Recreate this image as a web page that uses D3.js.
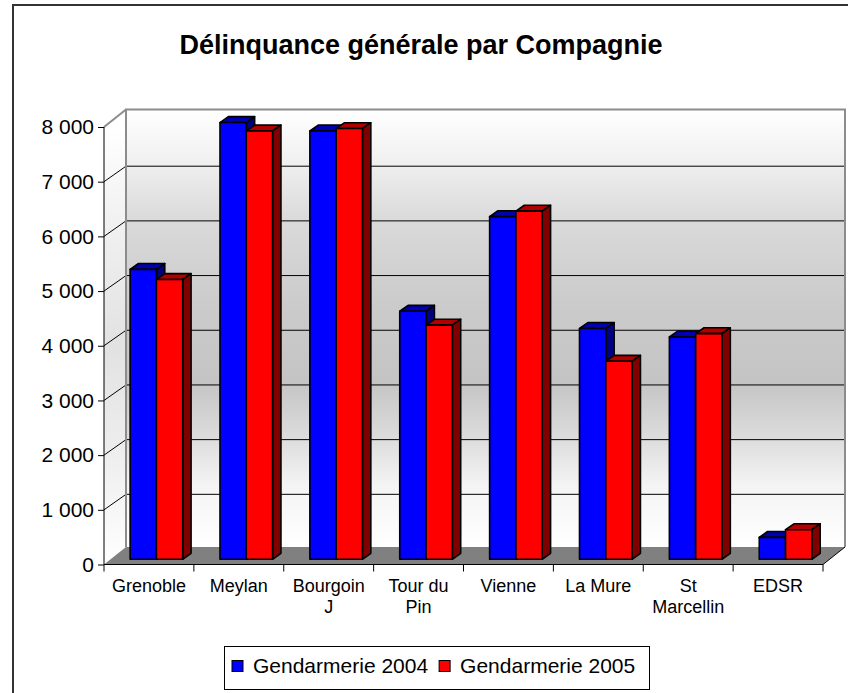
<!DOCTYPE html>
<html>
<head>
<meta charset="utf-8">
<script src="https://cdn.jsdelivr.net/npm/d3@7"></script>
<style>
  html, body { margin: 0; padding: 0; background: #ffffff; }
  svg { display: block; font-family: "Liberation Sans", Arial, sans-serif; }
</style>
</head>
<body>
<svg id="chart" width="848" height="693"></svg>
<script>
// Délinquance générale par Compagnie — 3D clustered columns
const categories = ["Grenoble", "Meylan", "Bourgoin J", "Tour du Pin", "Vienne", "La Mure", "St Marcellin", "EDSR"];
const seriesNames = ["Gendarmerie 2004", "Gendarmerie 2005"];
const gend2004 = [5300, 7985, 7830, 4535, 6265, 4220, 4065, 400];
const gend2005 = [5115, 7830, 7875, 4280, 6365, 3620, 4125, 540];
const yTicks = [0, 1000, 2000, 3000, 4000, 5000, 6000, 7000, 8000];
const titleText = "Délinquance générale par Compagnie";

const seriesValues = [gend2004, gend2005];
const front = ["#0000ff", "#ff0000"];
const topCol = ["#0000b0", "#b00000"];
const sideCol = ["#000080", "#800000"];

const svg = d3.select("#chart");

// outer frame (left and top edges visible)
svg.append("rect")
  .attr("x", 13).attr("y", 5).attr("width", 860).attr("height", 720)
  .attr("fill", "#ffffff").attr("stroke", "#333333").attr("stroke-width", 2);

// front plane scales
const x = d3.scaleBand().domain(categories).range([104, 823]).paddingInner(0).paddingOuter(0);
const xs = d3.scaleBand().domain(seriesNames).range([0, x.bandwidth()]).paddingInner(0).paddingOuter(0.709);
const y = d3.scaleLinear().domain([0, 8000]).range([564.5, 127]);

// depth projection
const DX = 22, DY = -15.5, DYW = -17.5;
const F0 = 0.34, F1 = 0.72;  // bar front / back depth fractions
const P = (xf, v, f) => [xf + f * DX, y(v) + f * DY];

const defs = svg.append("defs");
const grad = defs.append("linearGradient").attr("id", "wallGrad")
  .attr("gradientUnits", "userSpaceOnUse")
  .attr("x1", 0).attr("x2", 0).attr("y1", y(8000) + DYW).attr("y2", y(0) + DYW);
[[0, "#ffffff"], [0.12, "#f0f0f0"], [0.25, "#dadada"], [0.45, "#cbcbcb"], [0.62, "#c4c4c4"],
 [0.75, "#dcdcdc"], [0.86, "#f4f4f4"], [1, "#ffffff"]]
  .forEach(([o, c]) => grad.append("stop").attr("offset", o).attr("stop-color", c));
const grad2 = defs.append("linearGradient").attr("id", "sideGrad")
  .attr("gradientUnits", "userSpaceOnUse")
  .attr("x1", 0).attr("x2", 0).attr("y1", y(8000)).attr("y2", y(0));
[[0, "#ffffff"], [0.2, "#f2f2f2"], [0.5, "#e2e2e2"], [0.75, "#eeeeee"], [1, "#ffffff"]]
  .forEach(([o, c]) => grad2.append("stop").attr("offset", o).attr("stop-color", c));

const xL = x.range()[0], xR = x.range()[1];
const line = d3.line();

// side wall
svg.append("path")
  .attr("d", line([[xL, y(8000)], [xL + DX, y(8000) + DYW], [xL + DX, y(0) + DYW], [xL, y(0)]]) + "Z")
  .attr("fill", "url(#sideGrad)");

// back wall
svg.append("rect")
  .attr("x", xL + DX).attr("y", y(8000) + DYW)
  .attr("width", xR - xL).attr("height", y(0) - y(8000))
  .attr("fill", "url(#wallGrad)");

// back wall gridlines and side wall lines
const gridVals = yTicks.filter(v => v > 0 && v < 8000);
svg.append("g").selectAll("line.grid").data(gridVals).join("line")
  .attr("x1", xL + DX).attr("x2", xR + DX)
  .attr("y1", d => y(d) + DY).attr("y2", d => y(d) + DY)
  .attr("stroke", "#000000").attr("stroke-width", 1);
svg.append("g").selectAll("line.side").data(yTicks.filter(v => v > 0)).join("line")
  .attr("x1", xL).attr("y1", d => y(d))
  .attr("x2", xL + DX).attr("y2", d => y(d) + (d === 8000 ? DYW : DY))
  .attr("stroke", d => d === 8000 ? "#8c8c8c" : "#000000")
  .attr("stroke-width", d => d === 8000 ? 2 : 1);

// wall outline
svg.append("path")
  .attr("d", line([[xL + DX, y(0) + DYW], [xL + DX, y(8000) + DYW], [xR + DX, y(8000) + DYW], [xR + DX, y(0) + DYW]]))
  .attr("fill", "none").attr("stroke", "#8c8c8c").attr("stroke-width", 2);

// floor
svg.append("path")
  .attr("d", line([[xL, y(0)], [xR, y(0)], [xR + DX, y(0) + DYW], [xL + DX, y(0) + DYW]]) + "Z")
  .attr("fill", "#808080");

// front axis lines
svg.append("line").attr("x1", xL).attr("x2", xL).attr("y1", y(8000)).attr("y2", y(0))
  .attr("stroke", "#000000").attr("stroke-width", 1);
svg.append("line").attr("x1", xL).attr("x2", xR).attr("y1", y(0)).attr("y2", y(0))
  .attr("stroke", "#000000").attr("stroke-width", 1);
svg.append("line").attr("x1", xR).attr("x2", xR + DX).attr("y1", y(0)).attr("y2", y(0) + DYW)
  .attr("stroke", "#000000").attr("stroke-width", 1);

// y axis
const fr = d3.formatLocale({ decimal: ",", thousands: "\u00a0", grouping: [3], currency: ["", " €"] });
const yAxis = d3.axisLeft(y).tickValues(yTicks).tickFormat(fr.format(",d")).tickSize(6).tickPadding(4);
const gy = svg.append("g").attr("transform", `translate(${xL},0)`).call(yAxis);
gy.select(".domain").remove();
gy.selectAll(".tick line").attr("stroke", "#000000");
gy.selectAll(".tick text").attr("font-size", 21).attr("fill", "#000000")
  .attr("font-family", "'Liberation Sans', Arial, sans-serif");

// x axis tick marks at category boundaries
const bounds = categories.map(c => x(c)).concat([xR]);
svg.append("g").selectAll("line").data(bounds).join("line")
  .attr("x1", d => d).attr("x2", d => d).attr("y1", y(0)).attr("y2", y(0) + 7)
  .attr("stroke", "#000000").attr("stroke-width", 1);

// bars
const bars = svg.append("g");
categories.forEach((c, i) => {
  seriesNames.forEach((s, k) => {
    const v = seriesValues[k][i];
    const x0 = x(c) + xs(s), x1 = x0 + xs.bandwidth();
    const g = bars.append("g").attr("stroke", "#000000").attr("stroke-width", 1.6).attr("stroke-linejoin", "round");
    g.append("path").attr("fill", topCol[k])
      .attr("d", line([P(x0, v, F0), P(x1, v, F0), P(x1, v, F1), P(x0, v, F1)]) + "Z");
    g.append("path").attr("fill", sideCol[k])
      .attr("d", line([P(x1, v, F0), P(x1, 0, F0), P(x1, 0, F1), P(x1, v, F1)]) + "Z");
    const a = P(x0, v, F0), b = P(x1, 0, F0);
    g.append("rect").attr("fill", front[k])
      .attr("x", a[0]).attr("y", a[1]).attr("width", b[0] - a[0]).attr("height", b[1] - a[1]);
  });
});

// category labels, wrapped to the band width
const labels = svg.append("g").attr("font-size", 18).attr("fill", "#000000").attr("text-anchor", "middle");
categories.forEach(c => {
  const cx = x(c) + x.bandwidth() / 2;
  const t = labels.append("text").attr("x", cx).attr("y", 592);
  const words = c.split(" ");
  let lineWords = [];
  let ts = t.append("tspan").attr("x", cx).attr("dy", 0);
  words.forEach(w => {
    lineWords.push(w);
    ts.text(lineWords.join(" "));
    if (ts.node().getComputedTextLength() > 82 && lineWords.length > 1) {
      lineWords.pop();
      ts.text(lineWords.join(" "));
      lineWords = [w];
      ts = t.append("tspan").attr("x", cx).attr("dy", 21).text(w);
    }
  });
});

// title
svg.append("text").attr("x", 421).attr("y", 54).attr("text-anchor", "middle")
  .attr("font-size", 27).attr("font-weight", "bold").attr("fill", "#000000").text(titleText);

// legend
const leg = svg.append("g");
leg.append("rect").attr("x", 224.5).attr("y", 646.5).attr("width", 425).attr("height", 43)
  .attr("fill", "#ffffff").attr("stroke", "#000000").attr("stroke-width", 1);
let lx = 232;
seriesNames.forEach((s, k) => {
  leg.append("rect").attr("x", lx).attr("y", 660.5).attr("width", 11).attr("height", 11)
    .attr("fill", front[k]).attr("stroke", "#000000").attr("stroke-width", 1);
  const t = leg.append("text").attr("x", lx + 21).attr("y", 673).attr("font-size", 21)
    .attr("fill", "#000000").text(s);
  lx = lx + 21 + t.node().getComputedTextLength() + 11;
});
</script>
</body>
</html>
